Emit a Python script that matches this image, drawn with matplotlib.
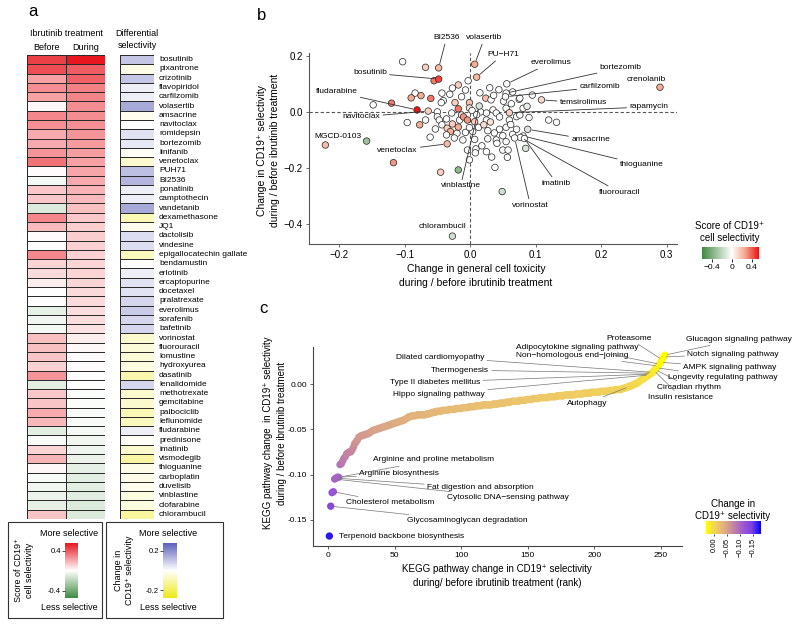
import numpy as np
import matplotlib
matplotlib.use("Agg")
import matplotlib.pyplot as plt
from matplotlib.colors import LinearSegmentedColormap, Normalize
from matplotlib.patches import Rectangle
import matplotlib.colorbar as mcolorbar

plt.rcParams['font.family'] = ['Liberation Sans', 'DejaVu Sans']

# ---------------- panel a data ----------------
drugs = ["bosutinib", "pixantrone", "crizotinib", "flavopiridol", "carfilzomib",
         "volasertib", "amsacrine", "navitoclax", "romidepsin", "bortezomib",
         "linifanib", "venetoclax", "PUH71", "BI2536", "ponatinib",
         "camptothecin", "vandetanib", "dexamethasone", "JQ1", "dactolisib",
         "vindesine", "epigallocatechin gallate", "bendamustin", "erlotinib",
         "ercaptopurine", "docetaxel", "pralatrexate", "everolimus", "sorafenib",
         "bafetinib", "vorinostat", "fluorouracil", "lomustine", "hydroxyurea",
         "dasatinib", "lenalidomide", "methotrexate", "gemcitabine", "palbociclib",
         "leflunomide", "fludarabine", "prednisone", "imatinib", "vismodegib",
         "thioguanine", "carboplatin", "duvelisib", "vinblastine", "clofarabine",
         "chlorambucil"]
before = [0.45, 0.42, 0.22, 0.27, 0.22, 0.02, 0.28, 0.26, 0.20, 0.20,
          0.25, 0.33, 0.01, -0.03, 0.13, 0.13, -0.10, 0.28, 0.16, 0.01,
          0.00, 0.28, 0.10, 0.09, 0.04, 0.00, 0.00, -0.07, -0.04, -0.03,
          0.15, 0.15, 0.14, 0.11, 0.25, -0.08, 0.13, 0.14, 0.20, 0.17,
          -0.08, -0.02, 0.10, 0.18, 0.02, -0.02, -0.04, -0.06, -0.07, 0.14]
during = [0.55, 0.38, 0.37, 0.30, 0.29, 0.27, 0.27, 0.26, 0.25, 0.24,
          0.23, 0.22, 0.21, 0.20, 0.18, 0.16, 0.15, 0.13, 0.12, 0.12,
          0.11, 0.11, 0.10, 0.10, 0.10, 0.09, 0.09, 0.08, 0.08, 0.07,
          0.04, 0.02, 0.01, 0.01, 0.00, 0.00, -0.01, -0.01, -0.02, -0.02,
          -0.03, -0.04, -0.05, -0.06, -0.07, -0.08, -0.08, -0.09, -0.10, -0.10]
diff = [0.10, -0.03, 0.10, 0.03, 0.03, 0.15, -0.02, 0.00, 0.05, 0.04,
        -0.01, -0.06, 0.11, 0.13, 0.03, 0.03, 0.15, -0.09, -0.02, 0.06,
        0.06, -0.08, 0.00, 0.03, 0.05, 0.05, 0.07, 0.09, 0.07, 0.07,
        -0.06, -0.05, -0.05, -0.04, -0.10, 0.07, -0.06, -0.06, -0.09, -0.08,
        0.03, -0.01, -0.06, -0.11, -0.03, -0.03, -0.02, -0.04, -0.04, -0.12]

# ---------------- panel b data ----------------
b_names = ["BI2536", "volasertib", "PU\u2212H71", "bosutinib", "fludarabine",
           "navitoclax", "MGCD-0103", "venetoclax", "vinblastine", "chlorambucil",
           "everolimus", "bortezomib", "carfilzomib", "crenolanib", "temsirolimus",
           "rapamycin", "amsacrine", "thioguanine", "fluorouracil", "imatinib",
           "vorinostat"]
b_lab_x = [-0.048, 0.007, 0.010, -0.048, -0.081, -0.064, -0.221, -0.035, 0.014, -0.027,
           0.056, 0.055, 0.054, 0.290, 0.109, 0.060, 0.088, 0.081, 0.077, 0.083, 0.068]
b_lab_y = [0.157, 0.170, 0.124, 0.117, 0.007, 0.003, -0.118, -0.114, 0.021, -0.443,
           0.100, 0.067, 0.054, 0.088, 0.043, -0.003, -0.062, -0.086, -0.091, -0.095, -0.093]
b_lab_s = [0.22, 0.25, 0.22, 0.45, 0.55, 0.15, 0.20, 0.22, -0.12, -0.15,
           0.0, 0.0, 0.0, 0.25, 0.12, 0.15, -0.12, 0.0, 0.0, 0.0, 0.0]

b_x = [-0.103, -0.068, -0.055, -0.003, -0.018, -0.007, -0.084, -0.075, -0.120, -0.148,
       -0.090, -0.060, -0.043, -0.031, -0.041, -0.023, -0.018, -0.001, -0.044, -0.050,
       -0.050, -0.047, -0.043, -0.035, -0.030, -0.020, -0.077, -0.096, -0.061, -0.011,
       -0.007, 0.004, -0.004, 0.007, 0.024, 0.032, 0.035, 0.051, 0.055, 0.075,
       0.081, 0.071, 0.055, 0.071, 0.085, 0.025, 0.045, 0.040, 0.050, 0.055,
       0.007, 0.013, -0.001, -0.016, 0.027, -0.018, -0.045, 0.038, -0.117, -0.158,
       0.049, 0.009, 0.025, 0.041, 0.058, 0.057, 0.076, 0.076, 0.120, 0.132,
       0.016, 0.025, 0.040, 0.045, 0.031, 0.021, 0.037, 0.027, 0.018, 0.008,
       -0.001, 0.033, 0.060, 0.063, -0.013, -0.028, -0.036, -0.027, -0.018, -0.024,
       -0.036, -0.053, -0.068, -0.010, -0.004, -0.001, -0.013, 0.015, 0.030, 0.044,
       0.065, 0.036, 0.003, 0.010, 0.065, 0.050, 0.062, 0.090, 0.095, 0.087, -0.027]
b_y = [0.179, 0.159, 0.111, 0.111, 0.096, 0.078, 0.067, 0.058, 0.031, 0.025,
       0.050, 0.048, 0.067, 0.063, 0.040, 0.033, 0.011, 0.033, 0.033, 0.000,
       -0.017, -0.029, -0.046, -0.058, -0.070, -0.076, -0.046, -0.038, -0.090, -0.100,
       -0.073, -0.070, -0.136, -0.098, 0.049, 0.043, 0.007, 0.038, 0.013, 0.045,
       0.013, -0.017, -0.055, -0.062, -0.130, -0.029, -0.062, -0.100, -0.136, -0.106,
       -0.035, -0.055, -0.056, -0.029, -0.067, -0.207, -0.215, -0.198, -0.181, -0.104,
       -0.284, -0.132, -0.142, -0.112, -0.136, -0.162, 0.049, -0.011, -0.029, -0.037,
       0.000, -0.004, -0.004, -0.018, -0.036, -0.046, -0.075, -0.096, -0.121, -0.146,
       -0.171, -0.161, -0.029, 0.029, -0.011, -0.004, -0.025, -0.043, -0.054, -0.093,
       -0.082, -0.061, -0.029, -0.018, -0.029, 0.014, 0.054, 0.068, 0.086, 0.079,
       0.071, 0.059, 0.005, -0.010, -0.080, -0.085, -0.045, -0.020, 0.060, 0.020, 0.085]
b_s = [0, 0.15, 0.35, 0, 0.15, 0, 0, 0.25, 0.35, 0,
       0.25, 0.35, 0, 0, 0, 0.15, 0.35, 0.2, 0, 0,
       -0.05, 0, 0, 0.15, 0.25, 0, 0.25, 0, 0, 0,
       0, 0, 0, 0, 0.2, 0, 0, 0, 0, 0,
       0, 0, 0, 0, -0.12, 0, 0, 0, 0, 0,
       0.15, 0, 0, 0, 0, -0.35, 0.15, 0, 0.3, -0.3,
       -0.15, 0, 0, 0, 0, 0, 0, 0, 0, 0,
       0, 0, 0, 0, 0.1, 0.1, 0, 0, 0, 0,
       0, 0, 0, 0, 0.1, 0, 0, 0.15, 0.25, 0,
       0, 0, 0, 0.3, 0.3, 0.1, 0, 0, 0, 0,
       0, 0, 0, 0, 0, 0, 0, 0, 0, -0.08, 0]

# ---------------- panel c data ----------------
kegg_change = [
    -0.168, -0.135, -0.120, -0.119, -0.105, -0.104, -0.103, -0.103, -0.089, -0.088,
    -0.085, -0.082, -0.080, -0.077, -0.076, -0.075, -0.075, -0.073, -0.070, -0.066,
    -0.064, -0.062, -0.059, -0.058, -0.057, -0.057, -0.056, -0.056, -0.055, -0.055,
    -0.054, -0.053, -0.052, -0.051, -0.051, -0.050, -0.050, -0.049, -0.049, -0.048,
    -0.048, -0.047, -0.047, -0.046, -0.046, -0.045, -0.045, -0.044, -0.044, -0.043,
    -0.043, -0.042, -0.042, -0.041, -0.041, -0.040, -0.040, -0.039, -0.038, -0.037,
    -0.036, -0.036, -0.035, -0.035, -0.035, -0.035, -0.034, -0.034, -0.034, -0.034,
    -0.034, -0.034, -0.034, -0.033, -0.033, -0.033, -0.032, -0.032, -0.031, -0.031,
    -0.031, -0.030, -0.030, -0.030, -0.030, -0.029, -0.029, -0.029, -0.029, -0.029,
    -0.028, -0.028, -0.028, -0.028, -0.028, -0.027, -0.027, -0.027, -0.027, -0.027,
    -0.026, -0.026, -0.026, -0.026, -0.026, -0.025, -0.025, -0.025, -0.025, -0.025,
    -0.024, -0.024, -0.024, -0.024, -0.024, -0.023, -0.023, -0.023, -0.023, -0.023,
    -0.023, -0.023, -0.023, -0.022, -0.022, -0.022, -0.022, -0.022, -0.021, -0.021,
    -0.021, -0.021, -0.021, -0.020, -0.020, -0.020, -0.020, -0.019, -0.019, -0.019,
    -0.019, -0.019, -0.019, -0.018, -0.018, -0.018, -0.018, -0.018, -0.017, -0.017,
    -0.017, -0.017, -0.017, -0.016, -0.016, -0.016, -0.016, -0.016, -0.015, -0.015,
    -0.015, -0.015, -0.015, -0.015, -0.015, -0.014, -0.014, -0.014, -0.014, -0.014,
    -0.014, -0.013, -0.013, -0.013, -0.013, -0.013, -0.013, -0.012, -0.012, -0.012,
    -0.012, -0.012, -0.012, -0.012, -0.012, -0.011, -0.011, -0.011, -0.011, -0.011,
    -0.011, -0.010, -0.010, -0.010, -0.010, -0.010, -0.010, -0.009, -0.009, -0.009,
    -0.009, -0.009, -0.009, -0.009, -0.008, -0.008, -0.008, -0.008, -0.008, -0.008,
    -0.007, -0.007, -0.007, -0.007, -0.007, -0.006, -0.006, -0.006, -0.006, -0.006,
    -0.005, -0.005, -0.004, -0.004, -0.003, -0.003, -0.002, -0.002, -0.001, 0.000,
    0.000, 0.001, 0.002, 0.003, 0.004, 0.005, 0.006, 0.007, 0.008, 0.009,
    0.010, 0.011, 0.012, 0.013, 0.015, 0.016, 0.018, 0.020, 0.022, 0.024,
    0.027, 0.030, 0.032]
# pathway label -> rank of the point it marks
kegg_names = ["Terpenoid backbone biosynthesis", "Glycosaminoglycan degradation",
              "Cholesterol metabolism", "Cytosolic DNA\u2212sensing pathway",
              "Fat digestion and absorption", "Arginine biosynthesis",
              "Arginine and proline metabolism", "Autophagy", "Hippo signaling pathway",
              "Type II diabetes mellitus", "Thermogenesis", "Dilated cardiomyopathy",
              "Insulin resistance", "Circadian rhythm", "Longevity regulating pathway",
              "Non\u2212homologous end\u2212joining", "Adipocytokine signaling pathway",
              "AMPK signaling pathway", "Proteasome", "Notch signaling pathway",
              "Glucagon signaling pathway"]
kegg_ranks = [1, 2, 4, 5, 6, 7, 8, 226, 241, 242, 243, 244,
              245, 246, 247, 248, 249, 250, 251, 252, 253]

W, H = 800, 626
fig = plt.figure(figsize=(8, 6.26), dpi=100)


def box(l, t, r, b):
    return [l / W, 1 - b / H, (r - l) / W, (b - t) / H]


def ftext(x, y, s, **kw):
    kw.setdefault('ha', 'center')
    kw.setdefault('va', 'center')
    fig.text(x / W, 1 - y / H, s, **kw)


# ===================== panel a =====================
ftext(33, 12, "a", fontsize=12)
ftext(66, 34, "Ibrutinib treatment", fontsize=6.5)
ftext(46, 47, "Before", fontsize=6.5)
ftext(86, 47, "During", fontsize=6.5)
ftext(137, 34, "Differential", fontsize=6.5)
ftext(137, 46, "selectivity", fontsize=6.5)

cmap_sel = LinearSegmentedColormap.from_list("sel", ["#3F8B3F", "#FFFFFF", "#E8161E"])
cmap_dif = LinearSegmentedColormap.from_list("dif", ["#EDE91A", "#FFFFFF", "#5C60B8"])
norm_sel = Normalize(-0.55, 0.55)
norm_dif = Normalize(-0.28, 0.28)
n = len(drugs)

ax_h = fig.add_axes(box(27, 55, 105, 519))
ax_h.pcolormesh(np.array([before, during]).T, cmap=cmap_sel, norm=norm_sel,
                edgecolors="#2b2b2b", linewidth=0.6)
ax_h.set_xlim(0, 2)
ax_h.set_ylim(n, 0)
ax_h.axis("off")

ax_d = fig.add_axes(box(120, 55, 154, 519))
ax_d.pcolormesh(np.array([diff]).T, cmap=cmap_dif, norm=norm_dif,
                edgecolors="#2b2b2b", linewidth=0.6)
ax_d.set_xlim(0, 1)
ax_d.set_ylim(n, 0)
ax_d.axis("off")
for i, d in enumerate(drugs):
    ax_d.text(1.15, i + 0.5, d, transform=ax_d.get_yaxis_transform(),
              fontsize=6, ha="left", va="center", clip_on=False)

# legend boxes
for (l, t, r, b) in [(8, 522, 102, 618), (106, 522, 223, 618)]:
    fig.add_artist(Rectangle((l / W, 1 - b / H), (r - l) / W, (b - t) / H,
                             transform=fig.transFigure, fill=False, lw=0.8, ec="#333333"))

ftext(69, 533, "More selective", fontsize=6.5)
ftext(69, 608, "Less selective", fontsize=6.5)
ftext(24, 570, "Score of CD19\u207a\ncell selectivity", fontsize=6.5, rotation=90)
cax1 = fig.add_axes(box(65, 543, 78, 598))
cb1 = mcolorbar.ColorbarBase(cax1, cmap=cmap_sel, norm=norm_sel, orientation="vertical")
cb1.outline.set_visible(False)
cb1.set_ticks([-0.4, 0.4])
cb1.set_ticklabels(["-0.4", "0.4"])
cax1.yaxis.set_ticks_position("left")
cax1.tick_params(labelsize=5.5, length=2, width=0.5, pad=1)

ftext(168, 533, "More selective", fontsize=6.5)
ftext(168, 608, "Less selective", fontsize=6.5)
ftext(124, 570, "Change in\nCD19\u207a selectivity", fontsize=6.5, rotation=90)
cax2 = fig.add_axes(box(163, 543, 177, 598))
cb2 = mcolorbar.ColorbarBase(cax2, cmap=cmap_dif, norm=norm_dif, orientation="vertical")
cb2.outline.set_visible(False)
cb2.set_ticks([-0.2, 0.2])
cb2.set_ticklabels(["-0.2", "0.2"])
cax2.yaxis.set_ticks_position("left")
cax2.tick_params(labelsize=5.5, length=2, width=0.5, pad=1)

# ===================== panel b =====================
ftext(262, 15, "b", fontsize=12)
cmap_b = LinearSegmentedColormap.from_list(
    "b", [(0, "#3F873F"), (0.522, "#FFFFFF"), (0.75, "#F5A98F"), (1, "#EE1111")])
norm_b = Normalize(-0.6, 0.55)

axb = fig.add_axes(box(309, 53, 677, 244))
axb.set_xlim(-0.246, 0.316)
axb.set_ylim(-0.471, 0.21)
axb.axvline(0, ls=(0, (3, 2)), color="#555555", lw=0.8, zorder=1)
axb.axhline(0, ls=(0, (3, 2)), color="#555555", lw=0.8, zorder=1)
axb.scatter(b_x, b_y, c=b_s, cmap=cmap_b, norm=norm_b, s=22,
            edgecolors="#222222", linewidths=0.5, zorder=3)
axb.scatter(b_lab_x, b_lab_y, c=b_lab_s, cmap=cmap_b, norm=norm_b, s=22,
            edgecolors="#222222", linewidths=0.5, zorder=4)
for sp in ["top", "right"]:
    axb.spines[sp].set_visible(False)
for sp in ["left", "bottom"]:
    axb.spines[sp].set_color("#555555")
axb.set_xticks([-0.2, -0.1, 0.0, 0.1, 0.2, 0.3])
axb.set_xticklabels(["\u22120.2", "\u22120.1", "0.0", "0.1", "0.2", "0.3"])
axb.set_yticks([-0.4, -0.2, 0.0, 0.2])
axb.set_yticklabels(["\u22120.4", "\u22120.2", "0.0", "0.2"])
axb.tick_params(labelsize=7, length=2.5, width=0.6, color="#555555", pad=2)

# label positions (text centre, data coords) and whether a leader line is drawn
b_text_pos = {
    "BI2536": (-0.036, 0.264, True), "volasertib": (0.022, 0.264, True),
    "PU\u2212H71": (0.050, 0.204, True), "bosutinib": (-0.153, 0.139, True),
    "fludarabine": (-0.204, 0.071, True), "navitoclax": (-0.166, -0.018, True),
    "MGCD-0103": (-0.202, -0.089, False), "venetoclax": (-0.111, -0.136, True),
    "vinblastine": (-0.0145, -0.264, True), "chlorambucil": (-0.042, -0.407, False),
    "everolimus": (0.123, 0.175, True), "bortezomib": (0.230, 0.157, True),
    "carfilzomib": (0.198, 0.089, True), "crenolanib": (0.269, 0.114, False),
    "temsirolimus": (0.173, 0.032, True), "rapamycin": (0.273, 0.018, True),
    "amsacrine": (0.184, -0.100, True), "thioguanine": (0.262, -0.189, True),
    "fluorouracil": (0.228, -0.286, True), "imatinib": (0.132, -0.254, True),
    "vorinostat": (0.092, -0.332, True),
}
for name, px, py in zip(b_names, b_lab_x, b_lab_y):
    tx, ty, line = b_text_pos[name]
    ap = dict(arrowstyle="-", color="#333333", lw=0.6, shrinkA=0, shrinkB=3) if line else None
    axb.annotate(name, xy=(px, py), xytext=(tx, ty), textcoords="data",
                 fontsize=6, ha="center", va="center", arrowprops=ap,
                 annotation_clip=False, zorder=5)

ftext(476, 276, "Change in general cell toxicity\nduring / before ibrutinib treatment",
      fontsize=7.5, linespacing=1.4)
ftext(268.5, 150, "Change in CD19\u207a selectivity\nduring / before ibrutinib treatment",
      fontsize=7.5, rotation=90, linespacing=1.4)

ftext(730, 232, "Score of CD19\u207a\ncell selectivity", fontsize=7, linespacing=1.3)
caxb = fig.add_axes(box(702, 247, 759, 259))
cbb = mcolorbar.ColorbarBase(caxb, cmap=cmap_b, norm=norm_b, orientation="horizontal")
cbb.outline.set_visible(False)
cbb.set_ticks([-0.4, 0, 0.4])
cbb.set_ticklabels(["\u22120.4", "0", "0.4"])
caxb.tick_params(labelsize=6, length=2.5, width=0.6, pad=1)

# ===================== panel c =====================
ftext(263, 309, "c", fontsize=12)
vmin_c, vmax_c = -0.18, 0.03
stops = [(-0.18, "#0000FF"), (-0.145, "#7D40E4"), (-0.11, "#A05AD0"),
         (-0.07, "#C98A9A"), (-0.04, "#E0AE80"), (-0.015, "#EDC868"),
         (0.01, "#F7E23E"), (0.03, "#FFFF00")]
cmap_c = LinearSegmentedColormap.from_list(
    "c", [((v - vmin_c) / (vmax_c - vmin_c), col) for v, col in stops])
norm_c = Normalize(vmin_c, vmax_c)

axc = fig.add_axes(box(313, 347, 682, 546))
axc.set_xlim(-11.3, 266)
axc.set_ylim(-0.179, 0.041)
ranks = np.arange(1, len(kegg_change) + 1)
axc.scatter(ranks, kegg_change, c=kegg_change, cmap=cmap_c, norm=norm_c,
            s=28, linewidths=0, zorder=3)
for sp in ["top", "right"]:
    axc.spines[sp].set_visible(False)
for sp in ["left", "bottom"]:
    axc.spines[sp].set_color("#444444")
axc.set_xticks([0, 50, 100, 150, 200, 250])
axc.set_yticks([0.0, -0.05, -0.10, -0.15])
axc.set_yticklabels(["0.00", "-0.05", "-0.10", "-0.15"])
axc.tick_params(labelsize=6, length=2, width=0.6, color="#444444", pad=2)

# text anchor (data coords), alignment, leader line
c_text_pos = {
    "Terpenoid backbone biosynthesis": (8.3, -0.1689, "left", False),
    "Glycosaminoglycan degradation": (59.4, -0.1512, "left", True),
    "Cholesterol metabolism": (13.5, -0.1313, "left", True),
    "Cytosolic DNA\u2212sensing pathway": (89.5, -0.1258, "left", True),
    "Fat digestion and absorption": (74.4, -0.1148, "left", True),
    "Arginine biosynthesis": (23.3, -0.0993, "left", True),
    "Arginine and proline metabolism": (33.8, -0.0839, "left", True),
    "Autophagy": (209.8, -0.021, "right", True),
    "Hippo signaling pathway": (118.0, -0.011, "right", True),
    "Type II diabetes mellitus": (114.3, 0.0022, "right", True),
    "Thermogenesis": (121.0, 0.0155, "right", True),
    "Dilated cardiomyopathy": (117.3, 0.0298, "right", True),
    "Insulin resistance": (240.6, -0.0143, "left", True),
    "Circadian rhythm": (247.4, -0.0033, "left", True),
    "Longevity regulating pathway": (255.6, 0.0077, "left", True),
    "Non\u2212homologous end\u2212joining": (225.6, 0.032, "right", True),
    "Adipocytokine signaling pathway": (233.0, 0.0408, "right", True),
    "AMPK signaling pathway": (266.9, 0.0188, "left", True),
    "Proteasome": (242.9, 0.0508, "right", True),
    "Notch signaling pathway": (270.0, 0.0331, "left", True),
    "Glucagon signaling pathway": (269.2, 0.0497, "left", True),
}
for name, rk in zip(kegg_names, kegg_ranks):
    tx, ty, ha, line = c_text_pos[name]
    ap = dict(arrowstyle="-", color="#777777", lw=0.5, shrinkA=0, shrinkB=2) if line else None
    axc.annotate(name, xy=(rk, kegg_change[rk - 1]), xytext=(tx, ty), textcoords="data",
                 fontsize=6, ha=ha, va="center", arrowprops=ap,
                 annotation_clip=False, zorder=5)

ftext(497, 576, "KEGG pathway change in CD19\u207a selectivity\nduring/ before ibrutinib treatment (rank)",
      fontsize=7, linespacing=1.45)
ftext(275, 433, "KEGG pathway change  in CD19\u207a selectivity\nduring / before ibrutinib treatment",
      fontsize=7, rotation=90, linespacing=1.45)

ftext(733, 510, "Change in\nCD19\u207a selectivity", fontsize=7, linespacing=1.3)
caxc = fig.add_axes(box(706, 521, 761, 534))
cbc = mcolorbar.ColorbarBase(caxc, cmap=cmap_c, norm=norm_c, orientation="horizontal")
cbc.outline.set_visible(False)
caxc.invert_xaxis()
cbc.set_ticks([0.0, -0.05, -0.10, -0.15])
cbc.set_ticklabels(["0.00", "\u22120.05", "\u22120.10", "\u22120.15"])
caxc.tick_params(labelsize=5.5, length=1.5, width=0.5, pad=1, labelrotation=90)

fig.savefig("out.png", dpi=100)
